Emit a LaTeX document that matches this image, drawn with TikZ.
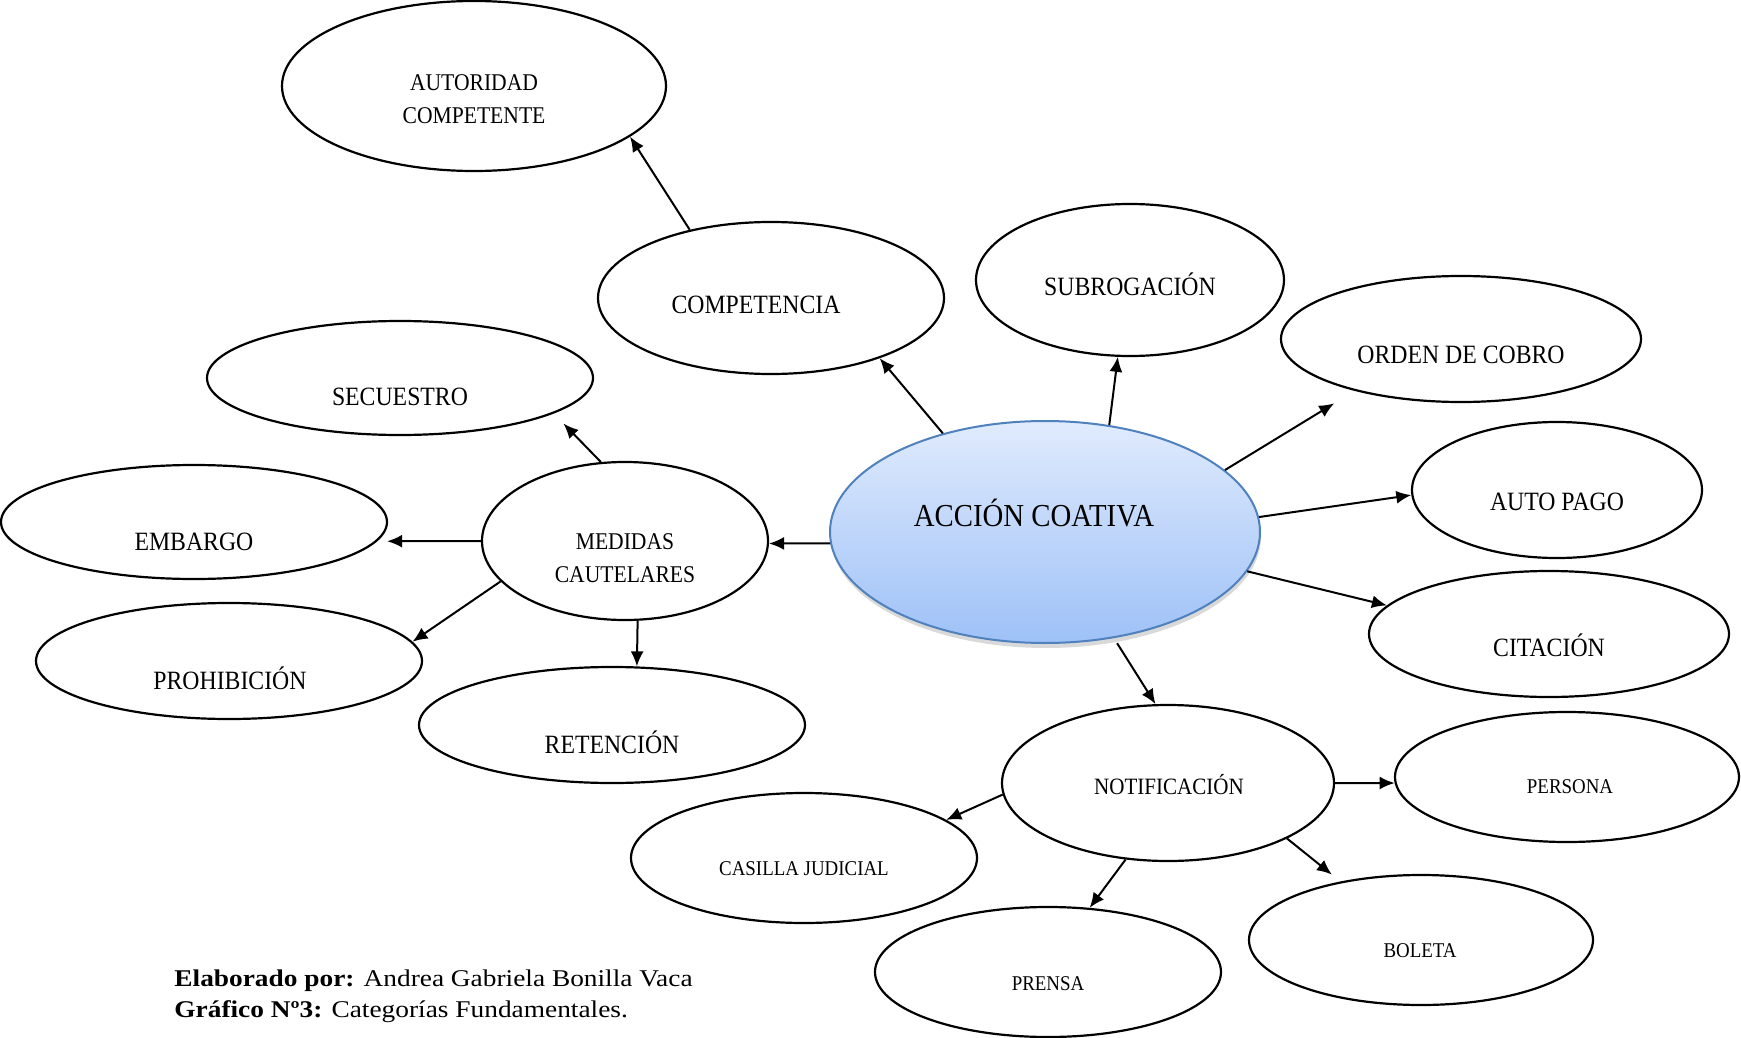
\documentclass[tikz,border=0pt]{standalone}
\usepackage{fontspec}
\setmainfont{Liberation Serif}[FakeStretch=0.9]
\newfontfamily\piefont{Liberation Serif}[FakeStretch=1.14]
\usetikzlibrary{%
  arrows.meta,%
  shapes.geometric,%
  shadows%
}
\definecolor{acctop}{RGB}{224,235,253}
\definecolor{accbot}{RGB}{158,193,247}
\definecolor{accline}{RGB}{79,129,189}
\tikzset{>={Latex[length=7.5pt,width=6.5pt]}, elip/.style = {draw, ellipse,
	    line width=1.1pt, inner sep=0pt},%
		flecha/.style={->, line width=1pt},
		central/.style={ellipse, draw=accline, line width=1pt, inner sep=0pt,
		top color=acctop, bottom color=accbot,
		drop shadow={shadow xshift=0.5pt, shadow yshift=-2.5pt, opacity=0.3}},
		txtG/.style={anchor=base, font=\fontsize{16}{19}\selectfont},
		txtM/.style={anchor=base, font=\fontsize{13.2}{16}\selectfont},
		txtN/.style={anchor=base, font=\fontsize{11.7}{14}\selectfont},
		txtD/.style={align=center, font=\fontsize{12}{16.2}\selectfont},
		txtP/.style={anchor=base, font=\fontsize{10.5}{13}\selectfont},
		pie/.style={anchor=base west, inner sep=0pt, font=\piefont\fontsize{12}{14}\selectfont}}

\begin{document}
\begin{tikzpicture}[x=0.5pt, y=-0.5pt]
    \useasboundingbox (0,0) rectangle (1741,1038);
    % elipses
    \node[elip, minimum width=192pt, minimum height=85pt] (autoridad) at (474,86) {};
    \node[elip, minimum width=173pt, minimum height=76pt] (competencia) at (771,298) {};
    \node[elip, minimum width=154pt, minimum height=76pt] (subrogacion) at (1130,280) {};
    \node[elip, minimum width=180pt, minimum height=63pt] (orden) at (1461,339) {};
    \node[elip, minimum width=145pt, minimum height=68pt] (autopago) at (1557,490) {};
    \node[elip, minimum width=180pt, minimum height=63pt] (citacion) at (1549,634) {};
    \node[central, minimum width=215pt, minimum height=111pt] (accion) at (1045,532) {};
    \node[elip, minimum width=143pt, minimum height=79pt] (medidas) at (625,541) {};
    \node[elip, minimum width=193pt, minimum height=57pt] (secuestro) at (400,378) {};
    \node[elip, minimum width=193pt, minimum height=57pt] (embargo) at (194,522) {};
    \node[elip, minimum width=193pt, minimum height=58pt] (prohibicion) at (229,661) {};
    \node[elip, minimum width=193pt, minimum height=58pt] (retencion) at (612,725) {};
    \node[elip, minimum width=166pt, minimum height=78pt] (notificacion) at (1168,783) {};
    \node[elip, minimum width=172pt, minimum height=65pt] (persona) at (1567,777) {};
    \node[elip, minimum width=173pt, minimum height=65pt] (casilla) at (804,858) {};
    \node[elip, minimum width=173pt, minimum height=65pt] (prensa) at (1048,972) {};
    \node[elip, minimum width=172pt, minimum height=65pt] (boleta) at (1421,940) {};
    % textos
    \node[txtD] (t-autoridad) at (474,99) {AUTORIDAD\\COMPETENTE};
    \node[txtM] (t-competencia) at (756,313) {COMPETENCIA};
    \node[txtM] (t-subrogacion) at (1130,295) {SUBROGACIÓN};
    \node[txtM] (t-orden) at (1461,363) {ORDEN DE COBRO};
    \node[txtM] (t-autopago) at (1557,510) {AUTO PAGO};
    \node[txtM] (t-citacion) at (1549,656) {CITACIÓN};
    \node[txtG] (t-accion) at (1034,526) {ACCIÓN COATIVA};
    \node[txtD] (t-medidas) at (625,558) {MEDIDAS\\CAUTELARES};
    \node[txtM] (t-secuestro) at (400,405) {SECUESTRO};
    \node[txtM] (t-embargo) at (194,550) {EMBARGO};
    \node[txtM] (t-prohibicion) at (230,689) {PROHIBICIÓN};
    \node[txtM] (t-retencion) at (612,753) {RETENCIÓN};
    \node[txtN] (t-notificacion) at (1169,794) {NOTIFICACIÓN};
    \node[txtP] (t-persona) at (1570,793) {PERSONA};
    \node[txtP] (t-casilla) at (804,875) {CASILLA JUDICIAL};
    \node[txtP] (t-prensa) at (1048,990) {PRENSA};
    \node[txtP] (t-boleta) at (1420,957) {BOLETA};
    % flechas
    \draw[flecha] (competencia.140) -- (autoridad.-18);
    \draw[flecha] (accion.136) -- (competencia.-29);
    \draw[flecha] (accion.59) -- (subrogacion.-99);
    \draw[flecha, shorten >=12pt] (accion.19) -- (orden.206);
    \draw[flecha] (accion.4) -- (autopago.182);
    \draw[flecha] (accion.-11) -- (citacion.170);
    \draw[flecha, shorten <=3pt] (accion.-57) -- (notificacion.99);
    \draw[flecha] (accion.183) -- (medidas.-1);
    \draw[flecha, shorten >=7pt] (medidas.107) -- (secuestro.-13);
    \draw[flecha, shorten >=5pt] (medidas.180) -- (embargo.-6);
    \draw[flecha] (medidas.198) -- (prohibicion.6);
    \draw[flecha] (medidas.-81) -- (retencion.67);
    \draw[flecha] (notificacion.0) -- (persona.182);
    \draw[flecha] (notificacion.184) -- (casilla.15);
    \draw[flecha] (notificacion.241) -- (prensa.57);
    \draw[flecha, shorten >=5.5pt] (notificacion.-25) -- (boleta.144);
    % pie
    \node[pie] (pie1) at (174,986) {\textbf{Elaborado por:} Andrea Gabriela Bonilla Vaca};
    \node[pie] (pie2) at (174,1017) {\textbf{Gráfico Nº3:} Categorías Fundamentales.};
  \end{tikzpicture}
\end{document}
